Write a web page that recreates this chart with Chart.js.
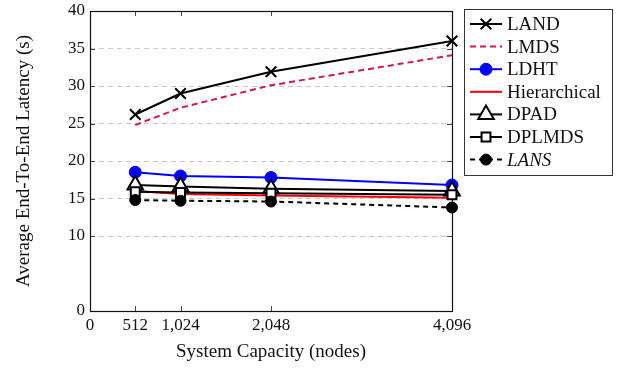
<!DOCTYPE html>
<html>
<head>
<meta charset="utf-8">
<script src="https://cdn.jsdelivr.net/npm/chart.js@4/dist/chart.umd.min.js"></script>
<style>
  html, body { margin: 0; padding: 0; background: #fff; }
  canvas { display: block; }
</style>
</head>
<body>
<canvas id="latencyChart" width="618" height="369"></canvas>
<script>
// ============ Data ============
const capacities = [512, 1024, 2048, 4096];
const xTicks = [0, 512, 1024, 2048, 4096];
const yTicks = [0, 10, 15, 20, 25, 30, 35, 40];

const seriesNames = ['LAND', 'LMDS', 'LDHT', 'Hierarchical', 'DPAD', 'DPLMDS', 'LANS'];
const landValues = [26.2, 29.0, 31.9, 36.0];
const lmdsValues = [24.8, 27.1, 30.1, 34.1];
const ldhtValues = [18.5, 18.0, 17.8, 16.8];
const hierarchicalValues = [16.0, 15.6, 15.4, 15.1];
const dpadValues = [16.8, 16.6, 16.3, 16.0];
const dplmdsValues = [15.9, 15.8, 15.7, 15.5];
const lansValues = [14.8, 14.7, 14.6, 13.8];

// ============ Style ============
const FONT = "'Liberation Serif', 'Times New Roman', serif";
const TEXT_COLOR = '#111';

const toPoints = (values) => values.map((v, i) => ({ x: capacities[i], y: v }));

const makeSeries = (label, values, style) => ({
    label,
    data: toPoints(values),
    borderColor: style.color,
    borderWidth: style.width || 2,
    borderDash: style.dash || [],
    pointStyle: style.marker || 'circle',
    pointRadius: style.radius || 0,
    pointHoverRadius: style.radius || 0,
    pointBackgroundColor: style.fill || style.color,
    pointBorderColor: style.color,
    pointBorderWidth: style.markerWidth || 1,
    italic: !!style.italic,
    tension: 0,
    fill: false,
    clip: false,
    order: style.order
});

const datasets = [
    makeSeries(seriesNames[0], landValues, { color: '#000', marker: 'crossRot', radius: 7.5, markerWidth: 2, order: 7 }),
    makeSeries(seriesNames[1], lmdsValues, { color: '#d0145a', dash: [6, 4], order: 6 }),
    makeSeries(seriesNames[2], ldhtValues, { color: '#0000ff', marker: 'circle', radius: 6, order: 5 }),
    makeSeries(seriesNames[3], hierarchicalValues, { color: '#ff0000', order: 4 }),
    makeSeries(seriesNames[4], dpadValues, { color: '#000', marker: 'triangle', radius: 9, fill: '#fff', markerWidth: 2, order: 3 }),
    makeSeries(seriesNames[5], dplmdsValues, { color: '#000', marker: 'rect', radius: 6.3, fill: '#fff', markerWidth: 2, order: 2 }),
    makeSeries(seriesNames[6], lansValues, { color: '#000', dash: [5, 4], marker: 'circle', radius: 5.5, italic: true, order: 1 })
];

// ============ Plugins ============
// pgfplots-like frame with inward tick marks
const framePlugin = {
    id: 'frame',
    beforeDatasetsDraw(chart) {
        const { ctx, chartArea: a, scales } = chart;
        ctx.save();
        ctx.strokeStyle = '#444';
        ctx.lineWidth = 1;
        ctx.beginPath();
        xTicks.slice(1, -1).forEach(v => {
            const x = Math.round(scales.x.getPixelForValue(v)) + 0.5;
            ctx.moveTo(x, a.bottom); ctx.lineTo(x, a.bottom - 5);
            ctx.moveTo(x, a.top); ctx.lineTo(x, a.top + 5);
        });
        yTicks.slice(1, -1).forEach(v => {
            const y = Math.round(scales.y.getPixelForValue(v)) + 0.5;
            ctx.moveTo(a.left, y); ctx.lineTo(a.left + 5, y);
            ctx.moveTo(a.right, y); ctx.lineTo(a.right - 5, y);
        });
        ctx.stroke();
        ctx.strokeStyle = '#111';
        ctx.lineWidth = 1.2;
        ctx.strokeRect(Math.round(a.left) + 0.5, Math.round(a.top) + 0.5,
            Math.round(a.right - a.left), Math.round(a.bottom - a.top));
        ctx.restore();
    }
};

// boxed legend with line samples and markers
const boxLegendPlugin = {
    id: 'boxLegend',
    afterDraw(chart) {
        const { ctx, chartArea: a } = chart;
        const left = a.right + 12;
        const top = 9;
        const rowH = 22.6;
        ctx.save();
        ctx.strokeStyle = '#333';
        ctx.lineWidth = 1;
        ctx.strokeRect(left + 0.5, top + 0.5, 148, 166);
        chart.data.datasets.forEach((ds, i) => {
            const y = top + 15 + i * rowH;
            ctx.save();
            ctx.strokeStyle = ds.borderColor;
            ctx.lineWidth = ds.borderWidth;
            ctx.setLineDash(ds.borderDash);
            ctx.beginPath();
            ctx.moveTo(left + 6, y);
            ctx.lineTo(left + 38, y);
            ctx.stroke();
            ctx.restore();
            if (ds.pointRadius > 0) {
                ctx.save();
                ctx.fillStyle = ds.pointBackgroundColor;
                ctx.strokeStyle = ds.pointBorderColor;
                ctx.lineWidth = ds.pointBorderWidth;
                Chart.helpers.drawPoint(ctx, {
                    pointStyle: ds.pointStyle,
                    radius: ds.pointRadius,
                    borderWidth: ds.pointBorderWidth,
                    rotation: 0
                }, left + 22, y);
                ctx.restore();
            }
            ctx.fillStyle = TEXT_COLOR;
            ctx.font = (ds.italic ? 'italic ' : '') + '19px ' + FONT;
            ctx.textBaseline = 'middle';
            ctx.fillText(ds.label, left + 43, y + 1);
        });
        ctx.restore();
    }
};

// ============ Chart ============
new Chart(document.getElementById('latencyChart').getContext('2d'), {
    type: 'line',
    data: { datasets },
    options: {
        responsive: false,
        animation: false,
        layout: { padding: { top: 11, right: 166, bottom: 0, left: 0 } },
        plugins: {
            legend: { display: false },
            tooltip: { enabled: false }
        },
        scales: {
            x: {
                type: 'linear',
                min: 0,
                max: 4096,
                afterBuildTicks: (axis) => { axis.ticks = xTicks.map(v => ({ value: v })); },
                afterFit: (axis) => {
                    axis.height = 58;
                    axis.paddingLeft = 0;
                    axis.paddingRight = 0;
                },
                ticks: {
                    autoSkip: false,
                    maxRotation: 0,
                    padding: 4,
                    color: TEXT_COLOR,
                    font: { family: FONT, size: 17 },
                    callback: (v) => Number(v).toLocaleString('en-US')
                },
                grid: { display: false, drawTicks: false },
                border: { display: false },
                title: {
                    display: true,
                    text: 'System Capacity (nodes)',
                    color: TEXT_COLOR,
                    font: { family: FONT, size: 19 },
                    padding: { top: 0, bottom: 6 }
                }
            },
            y: {
                min: 0,
                max: 40,
                afterBuildTicks: (axis) => { axis.ticks = yTicks.map(v => ({ value: v })); },
                afterFit: (axis) => {
                    axis.width = 90;
                    axis.paddingTop = 0;
                    axis.paddingBottom = 0;
                },
                ticks: {
                    padding: 5,
                    color: TEXT_COLOR,
                    font: { family: FONT, size: 17 }
                },
                grid: { color: '#c8c8c8', lineWidth: 1, drawTicks: false },
                border: { display: false, dash: [5, 4] },
                title: {
                    display: true,
                    text: 'Average End-To-End Latency (s)',
                    color: TEXT_COLOR,
                    font: { family: FONT, size: 19 },
                    padding: { top: 13, bottom: 0 }
                }
            }
        }
    },
    plugins: [framePlugin, boxLegendPlugin]
});
</script>
</body>
</html>
